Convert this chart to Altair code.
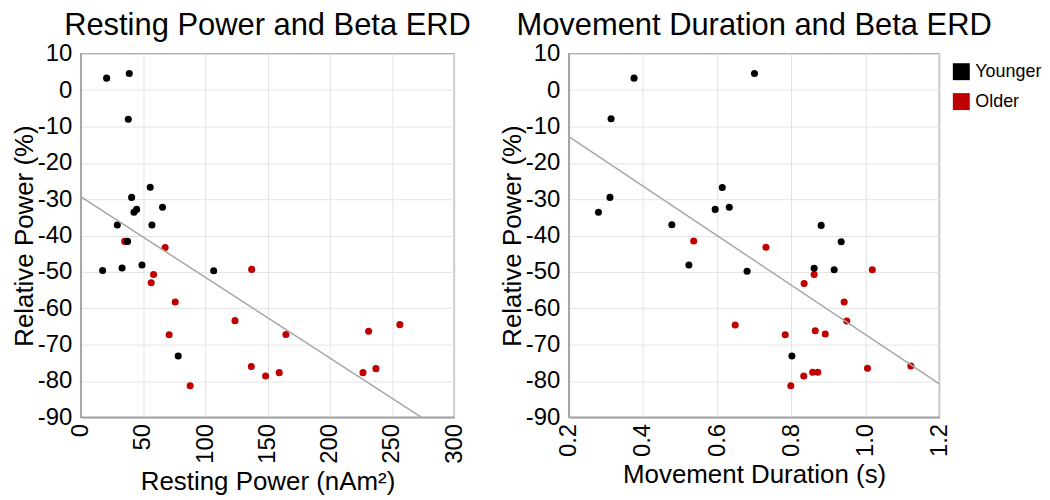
import altair as alt
import pandas as pd

groups = ["Younger", "Older"]
group_colors = ["#000000", "#c00000"]

# Left panel: Resting power (nAm^2) vs relative power (%)
rest_young_x = [20.8, 39.0, 38.2, 55.8, 40.9, 44.9, 42.8, 65.7, 29.4, 57.2, 37.6, 17.6, 33.2, 49.2, 106.8, 78.3]
rest_young_y = [3.3, 4.6, -8.0, -26.7, -29.5, -32.8, -33.6, -32.2, -37.1, -37.1, -41.6, -49.6, -48.9, -48.1, -49.7, -73.1]
rest_old_x = [35.3, 67.8, 137.3, 58.5, 56.6, 75.9, 123.9, 71.0, 164.8, 231.2, 256.3, 137.0, 148.5, 159.4, 226.7, 237.1, 87.9]
rest_old_y = [-41.6, -43.3, -49.3, -50.7, -53.0, -58.3, -63.4, -67.3, -67.2, -66.3, -64.5, -76.0, -78.6, -77.7, -77.7, -76.6, -81.3]

# Right panel: movement duration (s) vs relative power (%)
dur_young_x = [0.376, 0.701, 0.314, 0.614, 0.311, 0.595, 0.280, 0.633, 0.478, 0.881, 0.935, 0.681, 0.862, 0.524, 0.916, 0.802]
dur_young_y = [3.3, 4.6, -7.9, -26.8, -29.5, -32.8, -33.6, -32.2, -37.0, -37.2, -41.7, -49.8, -49.0, -48.1, -49.4, -73.1]
dur_old_x = [0.537, 0.732, 1.019, 0.862, 0.835, 0.943, 0.950, 0.649, 0.865, 0.784, 0.892, 1.006, 0.858, 0.872, 0.834, 0.799, 1.123]
dur_old_y = [-41.5, -43.2, -49.4, -50.7, -53.2, -58.3, -63.5, -64.6, -66.2, -67.3, -67.1, -76.5, -77.6, -77.6, -78.6, -81.3, -75.9]

# Linear trend-line coefficients (intercept, slope)
rest_fit = [-29.3, -0.2218]
dur_fit = [0.8, -68.0]

rest_ticks = [0, 50, 100, 150, 200, 250, 300]
dur_ticks = [0.2, 0.4, 0.6, 0.8, 1.0, 1.2]
y_ticks = [-90, -80, -70, -60, -50, -40, -30, -20, -10, 0, 10]

FONT = "Liberation Sans"
LINE_COLOR = "#a6a6a6"


def make_points(old_x, old_y, young_x, young_y):
    rows = [{"x": a, "y": b, "group": "Older"} for a, b in zip(old_x, old_y)]
    rows += [{"x": a, "y": b, "group": "Younger"} for a, b in zip(young_x, young_y)]
    return pd.DataFrame(rows)


def make_fit(fit, ticks):
    xs = [ticks[0], ticks[-1]]
    return pd.DataFrame({"x": xs, "y": [fit[0] + fit[1] * v for v in xs]})


def panel(df, fit_df, ticks, xtitle, title, label_expr, width):
    xscale = alt.Scale(domain=[ticks[0], ticks[-1]], nice=False, zero=False)
    yscale = alt.Scale(domain=[y_ticks[0], y_ticks[-1]], nice=False)
    xaxis = alt.Axis(title=xtitle, values=ticks, labelExpr=label_expr, labelAngle=270,
                     labelFlush=False, labelOverlap=False, labelPadding=6, titlePadding=5)
    yaxis = alt.Axis(title="Relative Power (%)", values=y_ticks, labelExpr="'' + datum.value",
                     labelFlush=False, labelOverlap=False, labelPadding=9, titlePadding=0)
    pts = alt.Chart(df).mark_circle(size=50, opacity=1).encode(
        x=alt.X("x:Q", scale=xscale, axis=xaxis),
        y=alt.Y("y:Q", scale=yscale, axis=yaxis),
        color=alt.Color("group:N",
                        scale=alt.Scale(domain=groups, range=group_colors),
                        legend=alt.Legend(title=None, orient="none", legendX=875, legendY=9,
                                          symbolType="square", symbolSize=289,
                                          symbolStrokeWidth=0, labelFontSize=18,
                                          labelFont=FONT, labelColor="#000000",
                                          rowPadding=12, labelOffset=5, padding=0)),
        order=alt.Order("group:N", sort="ascending"),
    )
    line = alt.Chart(fit_df).mark_line(color=LINE_COLOR, strokeWidth=1.5, clip=True).encode(
        x=alt.X("x:Q", scale=xscale, axis=xaxis),
        y=alt.Y("y:Q", scale=yscale, axis=yaxis),
    )
    return alt.layer(pts, line).properties(
        width=width, height=365,
        title=alt.TitleParams(title, fontSize=31, font=FONT, fontWeight="normal",
                              anchor="middle", frame="group", offset=0, color="#000000"),
    )


left = panel(make_points(rest_old_x, rest_old_y, rest_young_x, rest_young_y),
             make_fit(rest_fit, rest_ticks), rest_ticks,
             "Resting Power (nAm²)", "Resting Power and Beta ERD", "'' + datum.value", 375)
right = panel(make_points(dur_old_x, dur_old_y, dur_young_x, dur_young_y),
              make_fit(dur_fit, dur_ticks), dur_ticks,
              "Movement Duration (s)", "Movement Duration and Beta ERD",
              "format(datum.value, '.1f')", 372)

chart = alt.hconcat(left, right, spacing=26).properties(
    padding={"left": 2, "top": 0, "right": 0, "bottom": 0}
).configure_view(
    stroke="#a0a0a0", strokeWidth=1.5
).configure_axis(
    grid=True, gridColor="#e3e3e3", gridWidth=1,
    domainColor="#a0a0a0", domainWidth=1.5, ticks=False,
    labelFont=FONT, labelFontSize=24, labelColor="#000000",
    titleFont=FONT, titleFontSize=26, titleFontWeight="normal", titleColor="#000000",
)

chart.save("out.html", embed_options={"renderer": "svg", "actions": False})
